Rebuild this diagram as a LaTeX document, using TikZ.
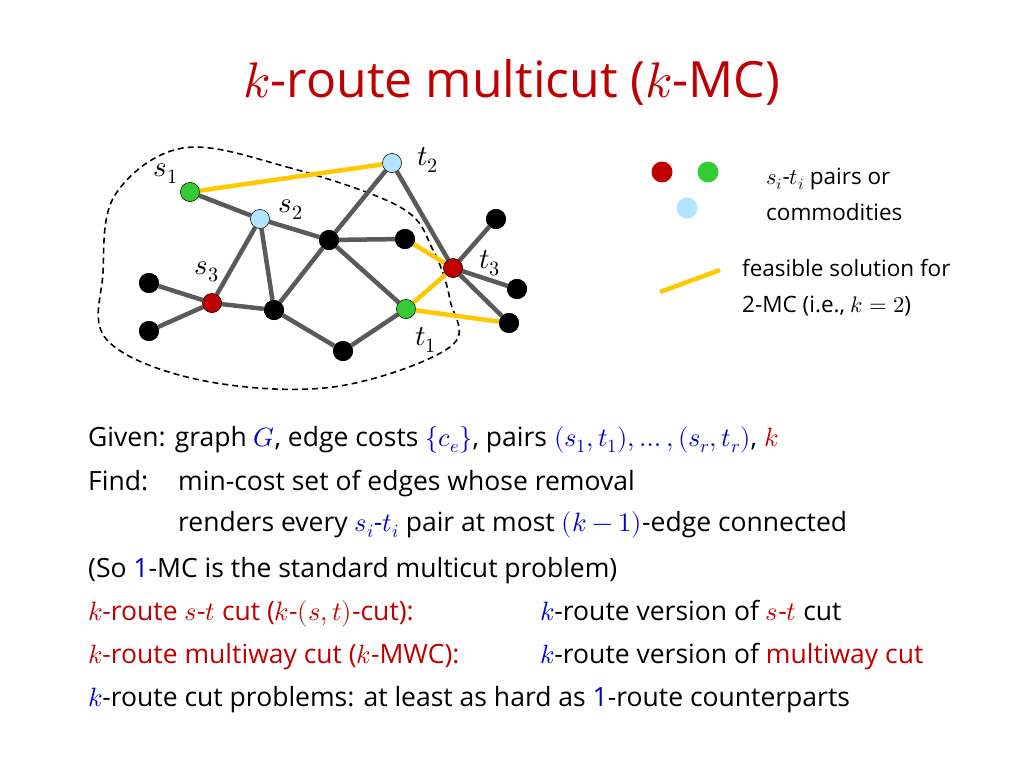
\documentclass[tikz,border=0pt]{standalone}
\usepackage{unicode-math}
\setmainfont{Open Sans}
\setmathfont{Latin Modern Math}
\definecolor{myred}{RGB}{192,0,0}
\definecolor{myblue}{RGB}{0,0,204}
\definecolor{edgegray}{RGB}{90,90,90}
\definecolor{solgold}{RGB}{255,200,0}
\begin{document}
\begin{tikzpicture}[
    x=1pt, y=-1pt,
    vtx/.style={circle, fill=black, inner sep=0pt, minimum size=20pt},
    term/.style={circle, draw=black, thin, inner sep=0pt, minimum size=19pt},
    edge/.style={line width=4.5pt, edgegray},
    sol/.style={line width=4.5pt, solgold},
    lbl/.style={font=\fontsize{29}{30}\selectfont},
    body/.style={anchor=base west, font=\fontsize{26.5}{30}\selectfont, inner sep=0pt}
]
\useasboundingbox (0,0) rectangle (1024,768);

% Title
\node[font=\fontsize{50}{56}\selectfont, text=myred] (title) at (512,82) {$k$-route multicut ($k$-MC)};

% Dashed region
\draw[dash pattern=on 6pt off 4pt, line width=1.6pt] plot[smooth cycle, tension=0.6] coordinates {
  (183,148) (287,167) (400,207) (433,250) (450,300) (450,347) (333,387)
  (200,380) (107,340) (103,273) (115,195)};

% Vertices
\node[term, fill=green!75!black!80] (s1) at (190,192) {};
\node[term, fill=blue!35!cyan!30] (t2) at (392,163) {};
\node[term, fill=blue!35!cyan!30] (s2) at (260,219) {};
\node[vtx] (a) at (329,240) {};
\node[vtx] (b) at (405,239) {};
\node[term, fill=myred] (t3) at (453,268) {};
\node[vtx] (c) at (496,219) {};
\node[vtx] (d) at (517,289) {};
\node[vtx] (e) at (509,323) {};
\node[term, fill=green!75!black!80] (t1) at (406,309) {};
\node[vtx] (f) at (343,351) {};
\node[vtx] (g) at (274,310) {};
\node[term, fill=myred] (s3) at (212,303) {};
\node[vtx] (h) at (149,283) {};
\node[vtx] (i) at (149,331) {};

% Edges
\foreach \u/\v in {s1/s2, s2/a, s2/s3, s2/g, a/t2, a/b, a/g, a/t1, t2/t3,
                   t3/c, t3/d, t3/e, t1/f, f/g, g/s3, s3/h, s3/i}
  \draw[edge] (\u) -- (\v);
\foreach \u/\v in {s1/t2, b/t3, t3/t1, t1/e}
  \draw[sol] (\u) -- (\v);
% redraw vertices on top
\foreach \n/\c in {s1/green!75!black!80, t2/blue!35!cyan!30, s2/blue!35!cyan!30,
                   t3/myred, t1/green!75!black!80, s3/myred}
  \node[term, fill=\c] at (\n) {};
\foreach \n in {a,b,c,d,e,f,g,h,i}
  \node[vtx] at (\n) {};

% Vertex labels
\node[lbl] at (166,174) {$s_1$};
\node[lbl] at (291,210) {$s_2$};
\node[lbl] at (207,272) {$s_3$};
\node[lbl] at (428,160) {$t_2$};
\node[lbl] at (490,263) {$t_3$};
\node[lbl] at (426,340) {$t_1$};

% Legend
\node[term, draw=none, fill=myred, minimum size=21pt] (lr) at (662,172) {};
\node[term, draw=none, fill=green!75!black!80, minimum size=21pt] (lg) at (708,172) {};
\node[term, draw=none, fill=blue!35!cyan!30, minimum size=21pt] (lb) at (687,208) {};
\node[body, font=\fontsize{22.5}{26}\selectfont] (ltxt1) at (766,184) {$s_i$-$t_i$ pairs or};
\node[body, font=\fontsize{22.5}{26}\selectfont] (ltxt2) at (766,220) {commodities};
\coordinate (ys) at (660,292);
\coordinate (ye) at (720,270);
\draw[sol] (ys) -- (ye);
\node[body, font=\fontsize{22.5}{26}\selectfont] (ltxt3) at (742,276) {feasible solution for};
\node[body, font=\fontsize{22.5}{26}\selectfont] (ltxt4) at (742,312) {2-MC (i.e., $k=2$)};

% Body text
\node[body] (l1) at (88,446) {Given: graph \textcolor{myblue}{$G$}, edge costs \textcolor{myblue}{$\{c_e\}$}, pairs \textcolor{myblue}{$(s_1,t_1),\ldots,(s_r,t_r)$}, \textcolor{myred}{$k$}};
\node[body] (l2a) at (88,490) {Find:};
\node[body] (l2b) at (178,490) {min-cost set of edges whose removal};
\node[body] (l3) at (178,531) {renders every \textcolor{myblue}{$s_i$-$t_i$} pair at most \textcolor{myblue}{$(k-1)$}-edge connected};
\node[body] (l4) at (88,577) {(So \textcolor{myblue}{1}-MC is the standard multicut problem)};
\node[body, text=myred] (l5a) at (88,620) {$k$-route $s$-$t$ cut ($k$-$(s,t)$-cut):};
\node[body] (l5b) at (540,620) {\textcolor{myblue}{$k$}-route version of \textcolor{myred}{$s$-$t$} cut};
\node[body, text=myred] (l6a) at (88,663) {$k$-route multiway cut ($k$-MWC):};
\node[body] (l6b) at (540,663) {\textcolor{myblue}{$k$}-route version of \textcolor{myred}{multiway cut}};
\node[body] (l7) at (88,706) {\textcolor{myblue}{$k$}-route cut problems: at least as hard as \textcolor{myblue}{1}-route counterparts};
\end{tikzpicture}
\end{document}
